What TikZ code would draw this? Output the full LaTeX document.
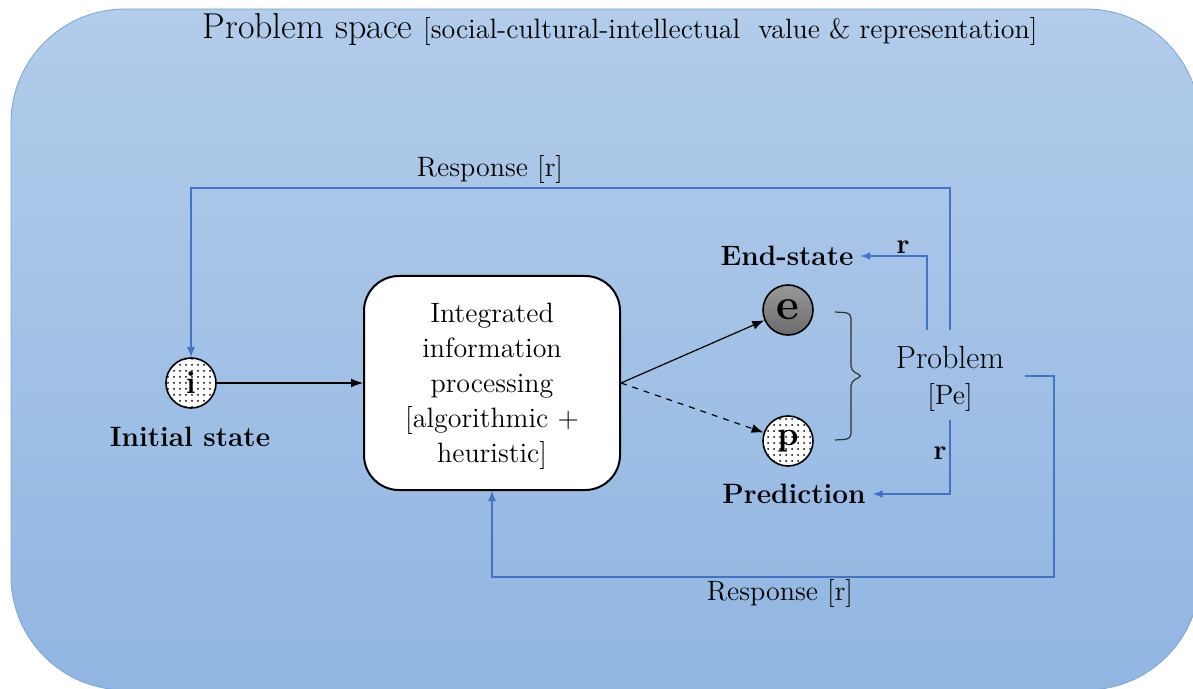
\documentclass[tikz,border=0pt]{standalone}
\usetikzlibrary{patterns,arrows.meta}

\definecolor{spacetop}{HTML}{B2CCEA}
\definecolor{spacebot}{HTML}{91B6E2}
\definecolor{spaceedge}{HTML}{7AA3D8}
\definecolor{respblue}{HTML}{4472C4}

\newcommand{\fsz}[1]{\fontsize{#1}{#1}\selectfont}

\begin{document}
\begin{tikzpicture}[x=0.5pt,y=-0.5pt]
	% Styles
	\tikzset{state/.style={circle,draw=black,line width=0.8pt,minimum size=25pt,inner sep=0pt},
		dotstate/.style={state,preaction={fill=white},pattern=dots},
		label text/.style={font=\bfseries\fsz{14}},
		resp/.style={draw=respblue,line width=0.7pt,-{Latex[length=5pt,width=4pt]}},
		flow/.style={draw=black,line width=0.6pt,-{Latex[length=6pt,width=4.5pt]}}}

	\useasboundingbox (0,0) rectangle (1193,689);
	\clip (0,0) rectangle (1193,689);

	% Draw the problem space
	\draw[spaceedge,top color=spacetop,bottom color=spacebot,rounded corners=57pt] (11,9) rectangle (1200,690);
	\node (title) at (620,30) {\fsz{18}Problem space \fsz{14}[social-cultural-intellectual\ \ value \& representation]};

	% States
	\node [dotstate,font=\bfseries\fsz{16}] (i) at (191,383) {i};
	\node [label text] (initial) at (190,437) {Initial state};

	\node [state,top color=black!40,bottom color=black!58,font=\bfseries\fsz{22}] (e) at (788,310) {e};
	\node [label text] (endst) at (787,256) {End-state};

	\node [dotstate,font=\bfseries\fsz{17}] (p) at (788,441) {p};
	\node [label text] (pred) at (794,494) {Prediction};

	% Processing box
	\node [draw=black,line width=1pt,fill=white,rounded corners=17.5pt,minimum width=128pt,minimum height=107pt,
		align=center,font=\fsz{14},text depth=0pt] (box) at (492,383)
		{Integrated\\[3.5pt] information\\[3.5pt] processing\\[3.5pt] [algorithmic +\\[3.5pt] heuristic]};

	% Problem
	\node [font=\fsz{16}] (prob) at (950,358) {Problem};
	\node [font=\fsz{14}] (pe) at (950,397) {[Pe]};
	\draw[black!80,line width=0.6pt,rounded corners=2.5pt] (835,312) -- (851,313) -- (851,371) -- (863,376)
		-- (851,381) -- (851,439) -- (835,440);

	% Flow of processing
	\draw[flow] (i) -- (box);
	\draw[flow] (box.east) -- (e);
	\draw[flow,dashed] (box.east) -- (p);

	% Responses
	\coordinate (ptop) at (950,330);
	\coordinate (pleft) at (927,330);
	\coordinate (pbot) at (950,420);
	\coordinate (pright) at (1025,376);
	\draw[resp] (ptop) -- ++(0,-142) -| (i);
	\node [font=\fsz{14}] (resptop) at (490,170) {Response [r]};
	\draw[resp] (pleft) |- (endst);
	\node [label text] (rtop) at (903,247) {r};
	\draw[resp] (pbot) |- (pred);
	\node [label text] (rbot) at (940,453) {r};
	\draw[resp] (pright) -- ++(29,0) -- ++(0,201) -| (box.south);
	\node [font=\fsz{14}] (respbot) at (780,593) {Response [r]};
\end{tikzpicture}
\end{document}
